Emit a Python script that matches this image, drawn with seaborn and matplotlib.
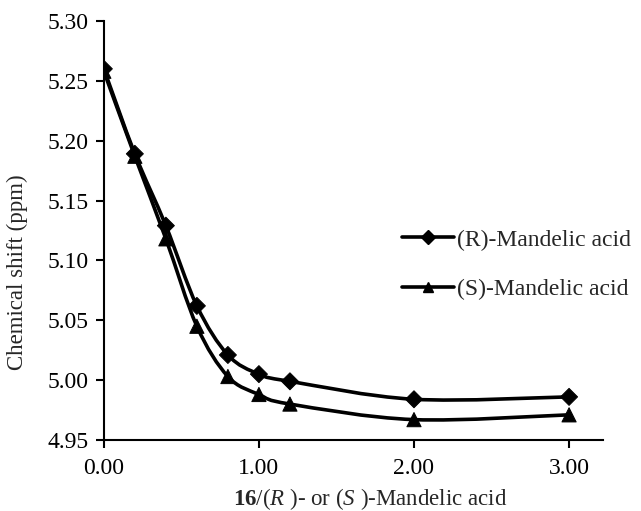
import matplotlib
matplotlib.use("Agg")
import matplotlib.pyplot as plt
import seaborn as sns
import pandas as pd
import numpy as np
from matplotlib.path import Path
from matplotlib.patches import PathPatch
from matplotlib.lines import Line2D
from matplotlib.ticker import FormatStrFormatter

ratio = [0.0, 0.2, 0.4, 0.6, 0.8, 1.0, 1.2, 2.0, 3.0]
shift_r = [5.260, 5.189, 5.129, 5.062, 5.021, 5.005, 4.999, 4.984, 4.986]
shift_s = [5.258, 5.187, 5.118, 5.045, 5.003, 4.988, 4.980, 4.967, 4.971]
labels = ["(R)-Mandelic acid", "(S)-Mandelic acid"]
markers = ["D", "^"]

df = pd.DataFrame({
    "ratio": ratio * 2,
    "shift": shift_r + shift_s,
    "acid": [labels[0]] * len(ratio) + [labels[1]] * len(ratio),
})


def smooth_path(x, y):
    # excel-style smoothed line: cubic bezier with catmull-rom control points
    p = np.column_stack([x, y])
    ext = np.vstack([p[0], p, p[-1]])
    verts = [p[0]]
    codes = [Path.MOVETO]
    for i in range(len(p) - 1):
        a, b, c, d = ext[i], ext[i + 1], ext[i + 2], ext[i + 3]
        verts += [b + (c - a) / 6, c - (d - b) / 6, c]
        codes += [Path.CURVE4] * 3
    return Path(verts, codes)


sns.set_style("ticks")
plt.rcParams["font.family"] = ["Liberation Serif", "DejaVu Serif"]
plt.rcParams["mathtext.fontset"] = "custom"
plt.rcParams["mathtext.rm"] = "Liberation Serif"
plt.rcParams["mathtext.it"] = "Liberation Serif:italic"
plt.rcParams["mathtext.bf"] = "Liberation Serif:bold"

fig = plt.figure(figsize=(6.41, 5.11), dpi=100)
ax = fig.add_axes([0.162, 0.139, 0.779, 0.82])

for lab, ys in zip(labels, [shift_r, shift_s]):
    ax.add_patch(PathPatch(smooth_path(ratio, ys), fill=False, edgecolor="black",
                           linewidth=2.6, capstyle="round", joinstyle="round"))

sns.scatterplot(data=df, x="ratio", y="shift", hue="acid", style="acid",
                size="acid", sizes={labels[0]: 75, labels[1]: 105},
                markers=dict(zip(labels, markers)),
                palette={labels[0]: "black", labels[1]: "black"},
                edgecolor="black", legend=False, ax=ax, zorder=3)

ax.set_xlim(0, 3.22)
ax.set_ylim(4.95, 5.30)
ax.set_xticks([0, 1, 2, 3])
ax.set_yticks([4.95, 5.00, 5.05, 5.10, 5.15, 5.20, 5.25, 5.30])
ax.xaxis.set_major_formatter(FormatStrFormatter("%.2f"))
ax.yaxis.set_major_formatter(FormatStrFormatter("%.2f"))
ax.tick_params(labelsize=17, width=1.5, length=6, color="black", labelcolor="black")
ax.tick_params(axis="x", pad=7)
ax.tick_params(axis="y", pad=5)
for s in ["left", "bottom"]:
    ax.spines[s].set_linewidth(1.5)
    ax.spines[s].set_color("black")
sns.despine(ax=ax)

ax.set_ylabel("Chemical shift (ppm)", fontsize=16.5)
ax.yaxis.set_label_coords(-0.152, 0.40)
ax.set_xlabel(r"$\mathbf{16}$/($\mathit{R}$ )- or ($\mathit{S}$ )-Mandelic acid", fontsize=16.5)
ax.xaxis.set_label_coords(0.533, -0.11)

handles = [Line2D([], [], color="black", linewidth=2.6, marker=m, markersize=7)
           for m in markers]
ax.legend(handles, labels, frameon=False, loc="center left",
          bbox_to_anchor=(0.578, 0.418), fontsize=17,
          handlelength=2.2, handletextpad=0.15, labelspacing=1.2, borderaxespad=0)

fig.savefig("out.png", dpi=100)
